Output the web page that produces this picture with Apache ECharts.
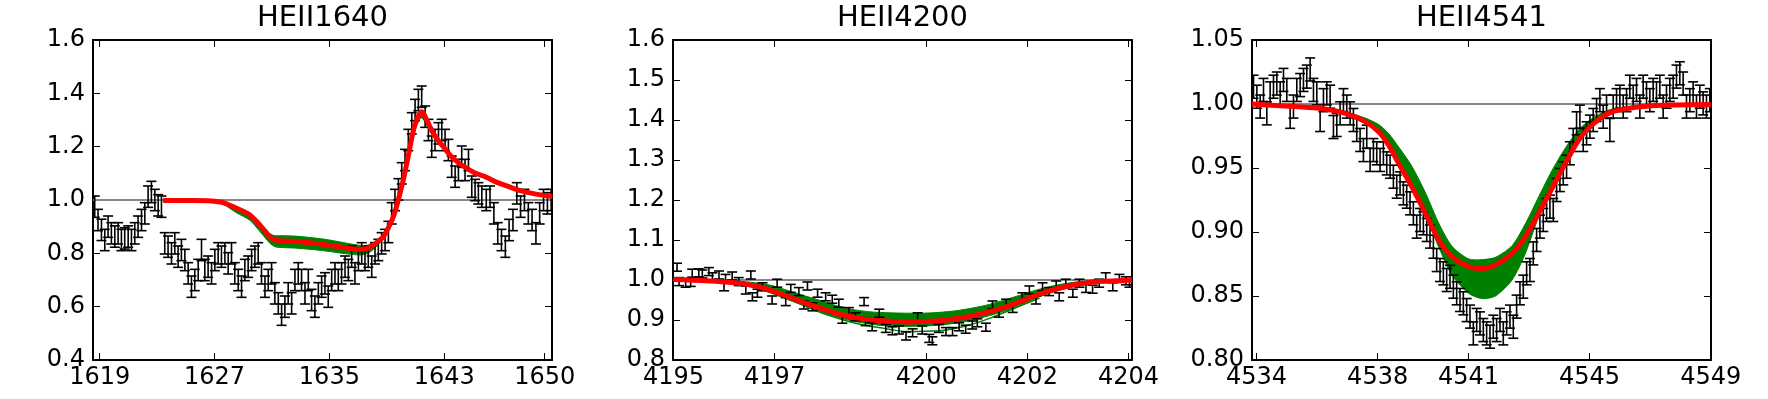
<!DOCTYPE html>
<html>
  <head>
    <meta charset="utf-8" />
    <title>HeII lines</title>
    <script src="https://cdn.jsdelivr.net/npm/echarts@6/dist/echarts.min.js"></script>
  </head>
  <body style="margin:0">
    <div id="main" style="width:1768px; height:399px;"></div>

    <script type="text/javascript">
      var myChart = echarts.init(document.getElementById('main'));

      // ---- titles / tick labels ----
      const titles = ['HEII1640', 'HEII4200', 'HEII4541'];
      const xTicks1 = [1619, 1627, 1635, 1643, 1650];
      const xTicks2 = [4195, 4197, 4200, 4202, 4204];
      const xTicks3 = [4534, 4538, 4541, 4545, 4549];
      const continuum = 1.0;

      // ---- HEII1640: observed spectrum ----
      const x1 = [1618.65,1618.88,1619.12,1619.35,1619.58,1619.81,1620.05,1620.28,1620.51,1620.74,
        1620.98,1621.21,1621.44,1621.67,1621.91,1622.14,1622.37,1622.60,1622.84,1623.07,
        1623.30,1623.53,1623.76,1624.00,1624.23,1624.46,1624.69,1624.93,1625.16,1625.39,
        1625.62,1625.86,1626.09,1626.32,1626.55,1626.79,1627.02,1627.25,1627.48,1627.72,
        1627.95,1628.18,1628.41,1628.65,1628.88,1629.11,1629.34,1629.58,1629.81,1630.04,
        1630.27,1630.51,1630.74,1630.97,1631.20,1631.44,1631.67,1631.90,1632.13,1632.37,
        1632.60,1632.83,1633.06,1633.30,1633.53,1633.76,1633.99,1634.23,1634.46,1634.69,
        1634.92,1635.16,1635.39,1635.62,1635.85,1636.09,1636.32,1636.55,1636.78,1637.02,
        1637.25,1637.48,1637.71,1637.95,1638.18,1638.41,1638.64,1638.88,1639.11,1639.34,
        1639.57,1639.81,1640.04,1640.27,1640.50,1640.74,1640.97,1641.20,1641.43,1641.67,
        1641.90,1642.13,1642.36,1642.60,1642.83,1643.06,1643.29,1643.52,1643.76,1643.99,
        1644.22,1644.45,1644.69,1644.92,1645.15,1645.38,1645.62,1645.93,1646.19,1646.46,
        1646.73,1646.99,1647.26,1647.52,1647.79,1648.06,1648.32,1648.59,1648.86,1649.12,
        1649.39,1649.65,1649.92,1650.19,1650.45];
      const y1 = [0.975,0.925,0.888,0.85,0.9,0.875,0.863,0.875,0.85,0.856,
        0.863,0.85,0.875,0.9,0.925,0.95,1.0125,1.03,1.0,0.98,
        0.975,0.8375,0.825,0.8,0.8375,0.7875,0.8125,0.775,0.725,0.675,
        0.7,0.7375,0.8125,0.7375,0.75,0.725,0.775,0.8,0.7875,0.8,
        0.7625,0.8,0.725,0.7,0.675,0.7375,0.75,0.775,0.7875,0.8,
        0.725,0.675,0.7,0.725,0.65,0.6125,0.57,0.6,0.65,0.6125,
        0.7,0.725,0.7,0.65,0.7,0.625,0.6,0.65,0.675,0.6875,
        0.6375,0.7,0.725,0.7,0.725,0.75,0.7375,0.7875,0.725,0.775,
        0.8,0.775,0.7875,0.75,0.8,0.8125,0.8375,0.85,0.88,0.95,
        1.0,1.04,1.1,1.15,1.225,1.2875,1.3375,1.375,1.3875,1.3125,
        1.2625,1.2,1.225,1.25,1.2625,1.225,1.1875,1.125,1.0875,1.1125,
        1.1625,1.1125,1.15,1.05,1.0375,1.025,1.0125,1.0,1.0125,0.95,
        0.875,0.85,0.825,0.8875,0.925,1.025,0.975,1.0,0.95,0.925,
        0.875,0.95,1.0,0.9875,1.0];
      const err1 = 0.04;

      // ---- HEII1640: best fit and model spread ----
      const fitX1 = [1623.42,1624.5,1625.5,1626.5,1627.0,1627.6,1628.53,1629.46,1630.16,1630.85,
        1631.2,1631.55,1632.5,1633.88,1635.0,1636.2,1637.13,1637.6,1638.06,1638.4,
        1638.76,1639.1,1639.46,1639.8,1640.15,1640.4,1640.62,1640.85,1641.08,1641.3,
        1641.43,1641.6,1641.78,1642.0,1642.25,1642.6,1642.94,1643.3,1643.64,1644.1,
        1644.57,1645.2,1645.85,1646.73,1647.5,1648.3,1649.4,1650.53];
      const fitY1 = [0.998,0.998,0.998,0.997,0.995,0.99,0.969,0.944,0.906,0.8625,
        0.85,0.847,0.845,0.838,0.83,0.82,0.815,0.818,0.831,0.845,
        0.8625,0.895,0.9375,1.0,1.075,1.14,1.2,1.26,1.3,1.325,
        1.331,1.32,1.3,1.275,1.25,1.222,1.2,1.175,1.156,1.135,
        1.119,1.1,1.0875,1.065,1.05,1.035,1.022,1.013];
      const bandHi1 = [1.0,1.0,1.0,0.999,0.997,0.993,0.975,0.952,0.915,0.874,
        0.866,0.866,0.865,0.858,0.85,0.838,0.83,0.83,0.84,0.852,
        0.866,0.899,0.942,1.005,1.08,1.146,1.206,1.266,1.306,1.33,
        1.336,1.326,1.306,1.281,1.256,1.228,1.205,1.18,1.16,1.139,
        1.123,1.104,1.091,1.068,1.053,1.038,1.025,1.016];
      const bandLo1 = [0.996,0.996,0.996,0.995,0.992,0.984,0.952,0.924,0.882,0.838,
        0.825,0.822,0.82,0.814,0.807,0.798,0.794,0.798,0.814,0.832,
        0.856,0.889,0.93,0.99,1.063,1.126,1.185,1.242,1.28,1.303,
        1.308,1.298,1.28,1.258,1.237,1.212,1.192,1.169,1.151,1.131,
        1.115,1.096,1.084,1.062,1.047,1.032,1.019,1.01];

      // ---- HEII4200: observed spectrum ----
      const x2 = [4195.07,4195.11,4195.24,4195.34,4195.37,4195.50,4195.57,4195.70,4195.77,4195.90,
        4196.00,4196.03,4196.16,4196.29,4196.43,4196.53,4196.56,4196.66,4196.76,4196.95,
        4197.05,4197.22,4197.32,4197.48,4197.58,4197.65,4197.75,4197.85,4198.01,4198.14,
        4198.27,4198.34,4198.47,4198.60,4198.77,4198.80,4198.93,4199.07,4199.20,4199.33,
        4199.46,4199.60,4199.73,4199.83,4199.92,4200.06,4200.12,4200.25,4200.39,4200.52,
        4200.65,4200.78,4200.91,4201.01,4201.18,4201.31,4201.44,4201.58,4201.71,4201.90,
        4202.04,4202.17,4202.30,4202.43,4202.57,4202.63,4202.76,4202.90,4203.03,4203.16,
        4203.29,4203.42,4203.55,4203.69,4203.82,4203.95,4204.02];
      const y2 = [1.032,0.996,0.992,0.994,1.017,1.018,1.015,1.021,1.008,1.0125,
        0.983,1.004,1.01,0.996,0.975,1.0125,0.958,0.967,0.983,0.95,
        0.992,0.946,0.979,0.971,0.9375,0.985,0.933,0.967,0.958,0.952,
        0.942,0.902,0.921,0.908,0.946,0.896,0.883,0.917,0.879,0.873,
        0.875,0.86,0.868,0.908,0.875,0.854,0.848,0.879,0.871,0.871,
        0.883,0.877,0.8875,0.893,0.882,0.9375,0.917,0.942,0.929,0.958,
        0.975,0.95,0.983,0.971,0.9875,0.958,0.992,0.967,0.992,0.979,
        0.977,0.992,1.008,0.983,1.004,0.998,0.992];
      const err2 = 0.01;

      const fitX2 = [4195.0,4195.63,4196.29,4196.62,4196.95,4197.28,4197.61,4197.95,4198.27,4198.6,
        4198.93,4199.26,4199.6,4199.92,4200.25,4200.58,4200.92,4201.25,4201.58,4201.9,
        4202.24,4202.57,4202.9,4203.23,4203.56,4204.07];
      const fitY2 = [1.001,0.998,0.992,0.985,0.973,0.958,0.942,0.9275,0.915,0.906,
        0.9,0.897,0.895,0.896,0.898,0.903,0.911,0.921,0.933,0.948,
        0.965,0.9775,0.9875,0.994,0.997,1.0];
      const bandHi2 = [1.002,1.001,0.997,0.993,0.986,0.973,0.96,0.947,0.934,0.925,
        0.92,0.918,0.917,0.917,0.919,0.923,0.93,0.939,0.951,0.964,
        0.977,0.987,0.994,0.998,0.999,1.001];
      const bandLo2 = [1.0,0.996,0.989,0.98,0.966,0.95,0.934,0.919,0.906,0.896,
        0.889,0.885,0.884,0.885,0.887,0.892,0.9,0.911,0.924,0.94,
        0.958,0.972,0.983,0.991,0.995,0.999];
      // one stray model draw below the bundle
      const strayX2 = [4197.6,4197.95,4198.6,4199.26,4199.6,4200.25,4200.78,4201.25,4201.9,4202.24];
      const strayY2 = [0.935,0.917,0.892,0.877,0.871,0.873,0.885,0.904,0.9375,0.955];

      // ---- HEII4541: observed spectrum ----
      const x3 = [4533.90,4534.01,4534.12,4534.23,4534.34,4534.45,4534.56,4534.67,4534.78,4534.89,
        4535.00,4535.11,4535.22,4535.33,4535.44,4535.55,4535.66,4535.77,4535.88,4535.99,
        4536.10,4536.21,4536.32,4536.43,4536.54,4536.65,4536.76,4536.87,4536.98,4537.09,
        4537.20,4537.31,4537.42,4537.53,4537.64,4537.75,4537.86,4537.97,4538.08,4538.19,
        4538.30,4538.41,4538.52,4538.63,4538.74,4538.85,4538.96,4539.07,4539.18,4539.29,
        4539.40,4539.51,4539.62,4539.73,4539.84,4539.95,4540.06,4540.17,4540.28,4540.39,
        4540.50,4540.61,4540.72,4540.83,4540.94,4541.05,4541.16,4541.27,4541.38,4541.49,
        4541.60,4541.71,4541.82,4541.93,4542.04,4542.15,4542.26,4542.37,4542.48,4542.59,
        4542.70,4542.81,4542.92,4543.03,4543.14,4543.25,4543.36,4543.47,4543.58,4543.69,
        4543.80,4543.91,4544.02,4544.13,4544.24,4544.35,4544.46,4544.57,4544.68,4544.79,
        4544.90,4545.01,4545.12,4545.23,4545.34,4545.45,4545.56,4545.67,4545.78,4545.89,
        4546.00,4546.11,4546.22,4546.33,4546.44,4546.55,4546.66,4546.77,4546.88,4546.99,
        4547.10,4547.21,4547.32,4547.43,4547.54,4547.65,4547.76,4547.87,4547.98,4548.09,
        4548.20,4548.31,4548.42,4548.53,4548.64,4548.75,4548.86,4548.97];
      const y3 = [1.0135,1.0057,0.998,1.011,0.9927,1.0083,1.0135,1.016,1.0083,1.0188,
        1.011,0.99,0.998,1.011,1.0148,1.0188,1.0214,1.027,1.011,1.0083,
        0.9875,1.003,1.0083,1.0057,0.982,0.9836,0.9927,1.003,0.998,0.9927,
        0.9875,0.9797,0.9719,0.964,0.9745,0.9563,0.964,0.9615,0.9563,0.9615,
        0.9536,0.951,0.9432,0.9354,0.938,0.9302,0.9276,0.9224,0.9146,0.9042,
        0.9094,0.9068,0.9016,0.8964,0.8885,0.8781,0.8703,0.8677,0.8625,0.865,
        0.8573,0.8521,0.8469,0.8443,0.839,0.8339,0.8208,0.8313,0.8286,0.8234,
        0.8208,0.8182,0.826,0.8234,0.8313,0.8208,0.8286,0.8339,0.826,0.8417,
        0.8521,0.8573,0.8677,0.8703,0.8833,0.8938,0.9042,0.9094,0.9172,0.9198,
        0.9172,0.9328,0.9406,0.9458,0.951,0.9615,0.9719,0.9849,0.9901,0.9719,
        0.9771,0.9823,0.9875,0.9953,1.003,0.9901,0.998,0.9797,0.998,1.003,
        1.0057,0.998,1.003,1.0135,1.0057,1.011,0.998,1.0135,1.0083,1.003,
        1.011,1.0083,1.0135,0.998,1.0057,1.011,1.0135,1.0214,1.024,1.016,
        0.998,1.003,1.0083,0.998,1.0057,1.0005,0.998,1.003];
      const err3 = 0.009;

      const fitX3 = [4533.85,4534.95,4536.05,4536.93,4537.59,4538.03,4538.36,4538.69,4539.13,4539.58,
        4540.02,4540.46,4541.01,4541.45,4541.89,4542.44,4542.88,4543.32,4543.76,4544.2,
        4544.64,4545.08,4545.52,4545.96,4547.06,4549.0];
      const fitY3 = [1.0,0.9984,0.9966,0.9927,0.9862,0.9784,0.968,0.9536,0.9354,0.9146,
        0.8938,0.8807,0.8729,0.8714,0.8742,0.8833,0.8964,0.9146,0.9341,0.9536,
        0.9719,0.9836,0.9914,0.9953,0.9987,0.9997];
      const bandHi3 = [1.0005,0.999,0.9975,0.994,0.989,0.984,0.977,0.9666,0.9514,0.9306,
        0.9068,0.8887,0.8789,0.8784,0.8802,0.8893,0.9064,0.9276,0.9481,0.9656,
        0.9799,0.9886,0.9944,0.997,0.9992,1.0];
      const bandLo3 = [0.9995,0.998,0.996,0.992,0.985,0.977,0.967,0.952,0.934,0.913,
        0.888,0.866,0.852,0.848,0.85,0.8625,0.8833,0.912,0.933,0.9526,
        0.971,0.983,0.991,0.995,0.9985,0.9995];

      // ---- layout ----
      const FONT = 'DejaVu Sans';
      const grids = [
        { left: 93, top: 40, width: 459, height: 320 },
        { left: 673, top: 40, width: 459, height: 320 },
        { left: 1252, top: 40, width: 459, height: 320 }
      ];
      const xRanges = [[1618.53, 1650.51], [4194.99, 4204.07], [4533.85, 4549.01]];
      const yRanges = [[0.4, 1.6, 0.2, 1], [0.8, 1.6, 0.1, 1], [0.8, 1.05, 0.05, 2]];
      const xTicks = [xTicks1, xTicks2, xTicks3];

      function errRender(params, api) {
        var x = api.value(0), y = api.value(1), e = api.value(2);
        var a = api.coord([x, y + e]);
        var b = api.coord([x, y - e]);
        var cw = 5;
        var st = { stroke: '#000', lineWidth: 1.6 };
        return {
          type: 'group',
          children: [
            { type: 'line', shape: { x1: a[0], y1: a[1], x2: b[0], y2: b[1] }, style: st },
            { type: 'line', shape: { x1: a[0] - cw, y1: a[1], x2: a[0] + cw, y2: a[1] }, style: st },
            { type: 'line', shape: { x1: b[0] - cw, y1: b[1], x2: b[0] + cw, y2: b[1] }, style: st }
          ]
        };
      }

      // model spread drawn as one filled polygon (upper edge out, lower edge back)
      function bandRender(xs, hi, lo) {
        return function (params, api) {
          var pts = [];
          for (var j = 0; j < xs.length; j++) pts.push(api.coord([xs[j], hi[j]]));
          for (var k = xs.length - 1; k >= 0; k--) pts.push(api.coord([xs[k], lo[k]]));
          return {
            type: 'polygon',
            shape: { points: pts, smooth: 0.25 },
            style: { fill: '#008000', stroke: '#008000', lineWidth: 1 }
          };
        };
      }

      var xAxes = [], yAxes = [], series = [], titleList = [];
      const panels = [
        { x: x1, y: y1, err: err1, fx: fitX1, fy: fitY1, hi: bandHi1, lo: bandLo1 },
        { x: x2, y: y2, err: err2, fx: fitX2, fy: fitY2, hi: bandHi2, lo: bandLo2 },
        { x: x3, y: y3, err: err3, fx: fitX3, fy: fitY3, hi: bandHi3, lo: bandLo3 }
      ];

      panels.forEach(function (p, i) {
        var g = grids[i];
        titleList.push({
          text: titles[i], left: g.left + g.width / 2, top: 4, padding: 0, textAlign: 'center',
          textStyle: { fontFamily: FONT, fontSize: 29, fontWeight: 'normal', color: '#000' }
        });
        ['bottom', 'top'].forEach(function (pos) {
          xAxes.push({
            type: 'value', gridIndex: i, position: pos,
            min: xRanges[i][0], max: xRanges[i][1],
            axisLine: { show: true, onZero: false, lineStyle: { color: '#000', width: 2 } },
            axisTick: { show: true, inside: true, length: 7, customValues: xTicks[i], lineStyle: { color: '#000', width: 1 } },
            axisLabel: {
              show: pos === 'bottom', customValues: xTicks[i], margin: 6,
              fontFamily: FONT, fontSize: 24, color: '#000',
              formatter: function (v) { return String(Math.round(v)); }
            },
            splitLine: { show: false }
          });
        });
        var yr = yRanges[i];
        ['left', 'right'].forEach(function (pos) {
          yAxes.push({
            type: 'value', gridIndex: i, position: pos,
            min: yr[0], max: yr[1], interval: yr[2],
            axisLine: { show: true, onZero: false, lineStyle: { color: '#000', width: 2 } },
            axisTick: { show: true, inside: true, length: 7, lineStyle: { color: '#000', width: 1 } },
            axisLabel: {
              show: pos === 'left', margin: 8,
              fontFamily: FONT, fontSize: 24, color: '#000',
              formatter: function (v) { return v.toFixed(yr[3]); }
            },
            splitLine: { show: false }
          });
        });

        var xi = 2 * i, yi = 2 * i;
        // continuum level
        series.push({
          type: 'line', xAxisIndex: xi, yAxisIndex: yi,
          data: [[xRanges[i][0], continuum], [xRanges[i][1], continuum]],
          symbol: 'none', lineStyle: { color: '#888888', width: 2 }, z: 1, silent: true
        });
        // model spread
        series.push({
          type: 'custom', xAxisIndex: xi, yAxisIndex: yi, clip: true,
          renderItem: bandRender(p.fx, p.hi, p.lo),
          data: [[p.fx[0], p.hi[0]]], encode: { x: 0, y: 1 }, z: 2, silent: true
        });
        // observed points with error bars
        series.push({
          type: 'custom', xAxisIndex: xi, yAxisIndex: yi, renderItem: errRender, clip: true,
          data: p.x.map(function (x, j) { return [x, p.y[j], p.err]; }),
          encode: { x: 0, y: 1 }, z: 3, silent: true
        });
        // best fit
        series.push({
          type: 'line', xAxisIndex: xi, yAxisIndex: yi,
          data: p.fx.map(function (x, j) { return [x, p.fy[j]]; }),
          symbol: 'none', smooth: 0.3,
          lineStyle: { color: '#ff0000', width: 5 }, z: 4, silent: true
        });
      });

      series.push({
        type: 'line', xAxisIndex: 2, yAxisIndex: 2,
        data: strayX2.map(function (x, j) { return [x, strayY2[j]]; }),
        symbol: 'none', smooth: 0.3, lineStyle: { color: '#008000', width: 1.5 }, z: 2, silent: true
      });

      var option = {
        animation: false,
        backgroundColor: '#fff',
        title: titleList,
        grid: grids.map(function (g) {
          return { left: g.left, top: g.top, width: g.width, height: g.height, show: false };
        }),
        xAxis: xAxes,
        yAxis: yAxes,
        series: series
      };

      myChart.setOption(option);
    </script>
  </body>
</html>
